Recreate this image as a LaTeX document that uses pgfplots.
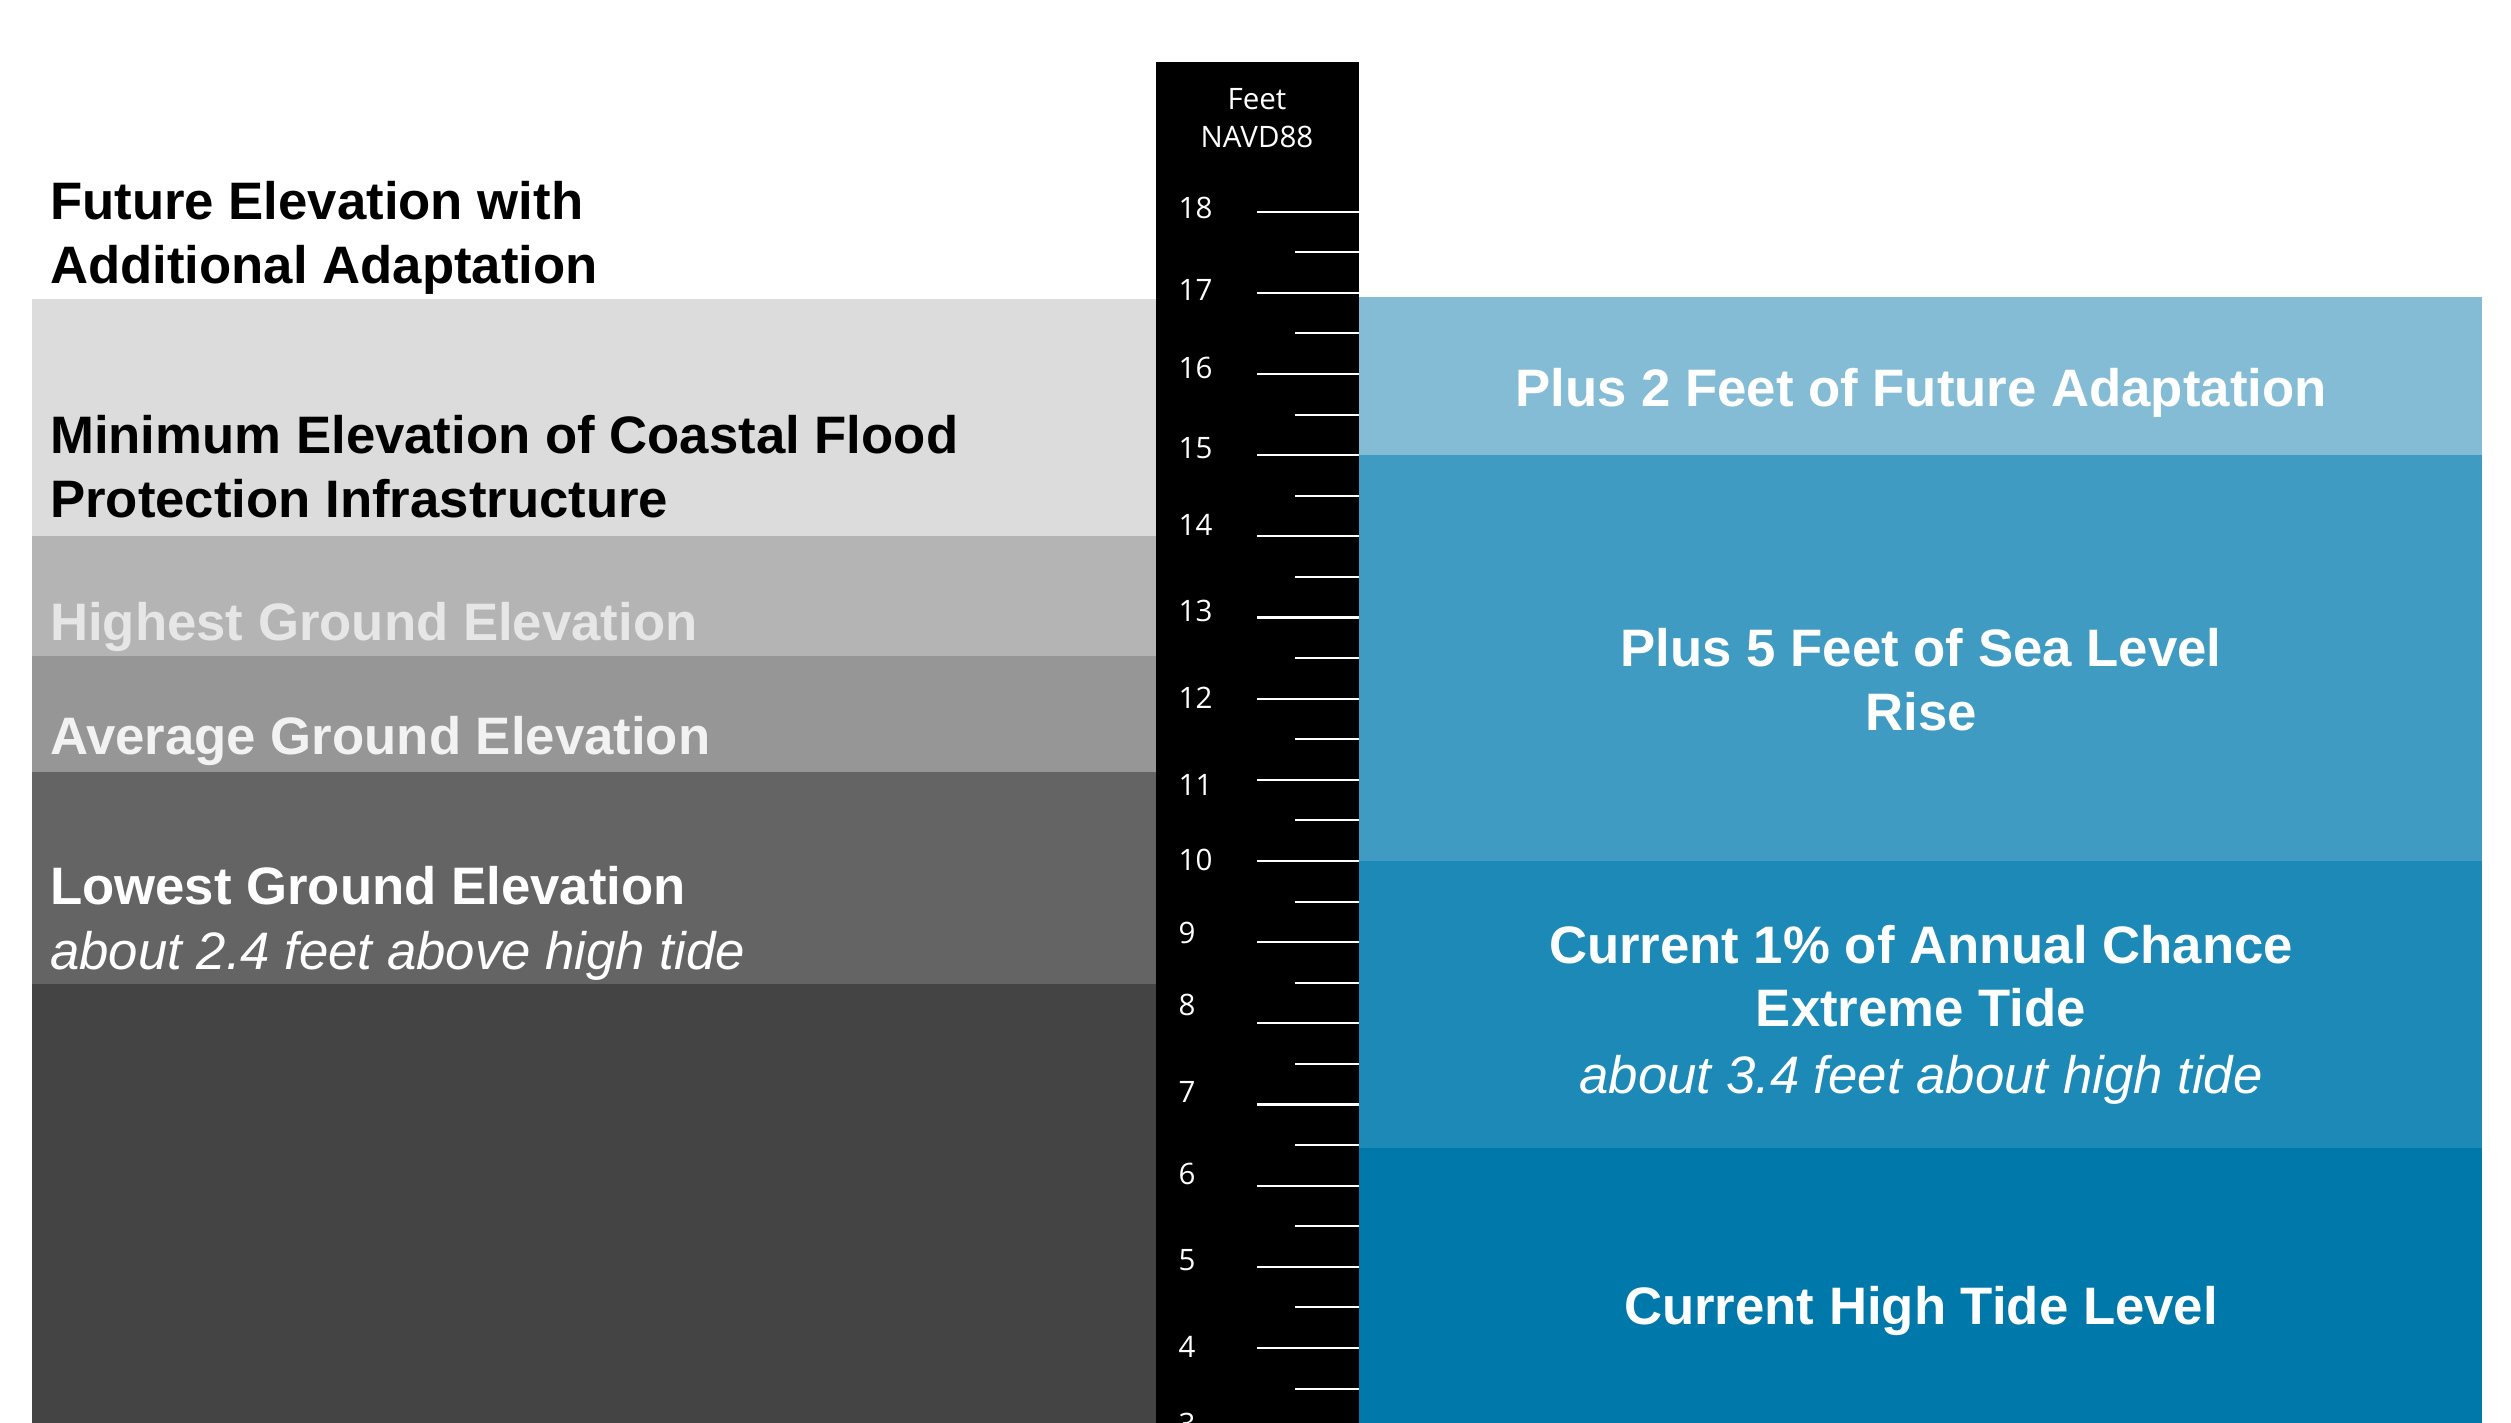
\documentclass[border=0pt]{standalone}
\usepackage{fontspec}
\setmainfont{Liberation Sans}
\newfontfamily\rulerfont{Open Sans}
\usepackage{pgfplots}
\usepackage{pgfplotstable}
\pgfplotsset{compat=1.18}

% band colours
\definecolor{protect}{HTML}{DCDCDC}
\definecolor{highest}{HTML}{B4B4B4}
\definecolor{average}{HTML}{969696}
\definecolor{lowest}{HTML}{646464}
\definecolor{ground}{HTML}{444444}
\definecolor{adapt}{HTML}{84BCD6}
\definecolor{slr}{HTML}{3F9BC1}
\definecolor{extreme}{HTML}{1C89B6}
\definecolor{hightide}{HTML}{0079AA}
\definecolor{hightxt}{HTML}{E6E6E6}
\definecolor{avgtxt}{HTML}{F2F2F2}

\newcommand\lblfont{\fontsize{15}{18}\selectfont}
\newcommand\rulfont{\rulerfont\fontsize{8.4}{10}\selectfont}

% ruler labels: value and vertical centre of the label (feet)
\pgfplotstableread{
lab ly
18 18.046
17 17.035
16 16.070
15 15.084
14 14.140
13 13.080
12 12.010
11 10.940
10 10.016
9 9.116
8 8.226
7 7.154
6 6.147
5 5.083
4 4.011
3 3.069
}\rulerlabels

\begin{document}
\begin{tikzpicture}
\path[use as bounding box] (0,0) rectangle (25.11cm,14.22cm);
\clip (0,0) rectangle (25.11cm,14.22cm);
\begin{axis}[
  at={(0,0)}, anchor=south west,
  scale only axis, width=25.11cm, height=14.22cm,
  xmin=0, xmax=2511, ymin=3.088, ymax=20.608,
  hide axis, clip=false,
]
% left side: ground and protection elevations
\addplot[fill=ground, draw=none] coordinates {(32,2.5) (1156,2.5) (1156,8.49) (32,8.49)} -- cycle;
\addplot[fill=lowest, draw=none] coordinates {(32,8.49) (1156,8.49) (1156,11.10) (32,11.10)} -- cycle;
\addplot[fill=average, draw=none] coordinates {(32,11.10) (1156,11.10) (1156,12.52) (32,12.52)} -- cycle;
\addplot[fill=highest, draw=none] coordinates {(32,12.52) (1156,12.52) (1156,14.00) (32,14.00)} -- cycle;
\addplot[fill=protect, draw=none] coordinates {(32,14.00) (1156,14.00) (1156,16.92) (32,16.92)} -- cycle;

% right side: water levels
\addplot[fill=hightide, draw=none] coordinates {(1359,2.5) (2482,2.5) (2482,6.46) (1359,6.46)} -- cycle;
\addplot[fill=extreme, draw=none] coordinates {(1359,6.46) (2482,6.46) (2482,10.00) (1359,10.00)} -- cycle;
\addplot[fill=slr, draw=none] coordinates {(1359,10.00) (2482,10.00) (2482,15.00) (1359,15.00)} -- cycle;
\addplot[fill=adapt, draw=none] coordinates {(1359,15.00) (2482,15.00) (2482,16.95) (1359,16.95)} -- cycle;

% the ruler
\addplot[fill=black, draw=none] coordinates {(1156,2.5) (1359,2.5) (1359,19.84) (1156,19.84)} -- cycle;
% whole-foot ticks
\addplot[white, line width=0.6pt, quiver={u=102, v=0}] table[x expr=1257.3, y=v] {
v
3
4
5
6
7
8
9
10
11
12
13
14
15
16
17
18
};
% half-foot ticks
\addplot[white, line width=0.6pt, quiver={u=64, v=0}] table[x expr=1295, y=v] {
v
3.5
4.5
5.5
6.5
7.5
8.5
9.5
10.5
11.5
12.5
13.5
14.5
15.5
16.5
17.5
};
% ruler numbers
\addplot[draw=none, mark=none, nodes near coords, point meta=explicit symbolic,
  every node near coord/.append style={anchor=west, inner sep=0pt, text=white, font=\rulfont}]
  table[x expr=1178, y=ly, meta=lab] {\rulerlabels};

\node[anchor=base, inner sep=0pt, text=white, font=\rulfont] at (axis cs:1257,19.262) {Feet};
\node[anchor=base, inner sep=0pt, text=white, font=\rulfont] at (axis cs:1257,18.789) {NAVD88};

% left labels
\node[anchor=base west, inner sep=0pt, font=\lblfont\bfseries] at (axis cs:49.5,17.905) {Future Elevation with};
\node[anchor=base west, inner sep=0pt, font=\lblfont\bfseries] at (axis cs:49.5,17.117) {Additional Adaptation};
\node[anchor=base west, inner sep=0pt, font=\lblfont\bfseries] at (axis cs:49.5,15.024) {Minimum Elevation of Coastal Flood};
\node[anchor=base west, inner sep=0pt, font=\lblfont\bfseries] at (axis cs:49.5,14.235) {Protection Infrastructure};
\node[anchor=base west, inner sep=0pt, font=\lblfont\bfseries, text=hightxt] at (axis cs:49.5,12.715) {Highest Ground Elevation};
\node[anchor=base west, inner sep=0pt, font=\lblfont\bfseries, text=avgtxt] at (axis cs:49.5,11.314) {Average Ground Elevation};
\node[anchor=base west, inner sep=0pt, font=\lblfont\bfseries, text=white] at (axis cs:49.5,9.458) {Lowest Ground Elevation};
\node[anchor=base west, inner sep=0pt, font=\lblfont\itshape, text=white] at (axis cs:49.5,8.66) {about 2.4 feet above high tide};

% right labels
\node[anchor=base, inner sep=0pt, font=\lblfont\bfseries, text=white] at (axis cs:1921,15.597) {Plus 2 Feet of Future Adaptation};
\node[anchor=base, inner sep=0pt, font=\lblfont\bfseries, text=white] at (axis cs:1921,12.400) {Plus 5 Feet of Sea Level};
\node[anchor=base, inner sep=0pt, font=\lblfont\bfseries, text=white] at (axis cs:1921,11.611) {Rise};
\node[anchor=base, inner sep=0pt, font=\lblfont\bfseries, text=white] at (axis cs:1921,8.739) {Current 1\% of Annual Chance};
\node[anchor=base, inner sep=0pt, font=\lblfont\bfseries, text=white] at (axis cs:1921,7.955) {Extreme Tide};
\node[anchor=base, inner sep=0pt, font=\lblfont\itshape, text=white] at (axis cs:1921,7.13) {about 3.4 feet about high tide};
\node[anchor=base, inner sep=0pt, font=\lblfont\bfseries, text=white] at (axis cs:1921,4.290) {Current High Tide Level};
\end{axis}
\end{tikzpicture}
\end{document}
